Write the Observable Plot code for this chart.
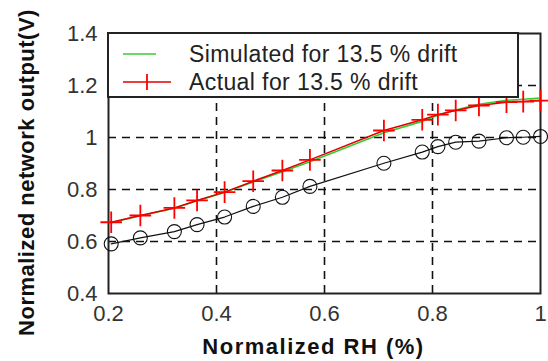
<!DOCTYPE html>
<html>
<head>
<meta charset="utf-8">
<script src="https://cdn.jsdelivr.net/npm/d3@7"></script>
<script src="https://cdn.jsdelivr.net/npm/@observablehq/plot@0.6"></script>
<style>
  body { margin: 0; background: #fff; }
  #wrap { position: relative; width: 548px; height: 361px; overflow: hidden; font-family: "Liberation Sans", Arial, sans-serif; }
  #legend { position: absolute; left: 107px; top: 32px; width: 408px; height: 62px; border: 2px solid #222; background: #fff; }
  #legend .row { position: absolute; left: 0; height: 28px; width: 100%; }
  #legend .lab { position: absolute; left: 80px; top: 0; font-size: 23px; color: #222; letter-spacing: 0.4px; line-height: 28px; white-space: nowrap; }
  #legend svg { position: absolute; left: 0; top: 0; }
</style>
</head>
<body>
<div id="wrap"></div>
<script>
// ---- data ----
const rh = [0.205, 0.259, 0.322, 0.364, 0.415, 0.468, 0.522, 0.573, 0.71, 0.781, 0.81, 0.843, 0.886, 0.937, 0.968, 1.0];
const simulated = [0.672, 0.699, 0.728, 0.757, 0.789, 0.829, 0.868, 0.907, 1.018, 1.062, 1.086, 1.106, 1.128, 1.143, 1.147, 1.152];
const actual = [0.674, 0.700, 0.729, 0.758, 0.790, 0.832, 0.873, 0.914, 1.027, 1.068, 1.088, 1.104, 1.123, 1.136, 1.138, 1.142];
const noDrift = [0.591, 0.614, 0.638, 0.665, 0.694, 0.735, 0.770, 0.812, 0.901, 0.944, 0.965, 0.982, 0.986, 0.999, 1.001, 1.004];
const seriesNames = ["Simulated for 13.5 % drift", "Actual for 13.5 % drift"];
const xTicks = [0.2, 0.4, 0.6, 0.8, 1];
const xTickLabels = ["0.2", "0.4", "0.6", "0.8", "1"];
const yTicks = [0.4, 0.6, 0.8, 1, 1.2, 1.4];
const yTickLabels = ["0.4", "0.6", "0.8", "1", "1.2", "1.4"];
const xGrid = [0.4, 0.6, 0.8];
const yGrid = [0.6, 0.8, 1, 1.2];
const xLabel = "Normalized RH (%)";
const yLabel = "Normalized network output(V)";

const simRows = rh.map((x, i) => ({x, y: simulated[i]}));
const actRows = rh.map((x, i) => ({x, y: actual[i]}));
const ndRows = rh.map((x, i) => ({x, y: noDrift[i]}));

const chart = Plot.plot({
  width: 548,
  height: 361,
  marginLeft: 108,
  marginRight: 8,
  marginTop: 33,
  marginBottom: 68,
  style: {fontFamily: "'Liberation Sans', Arial, sans-serif", background: "#fff", color: "#333"},
  x: {domain: [0.2, 1]},
  y: {domain: [0.4, 1.4]},
  marks: [
    Plot.ruleX(xGrid, {stroke: "#111", strokeWidth: 1.6, strokeDasharray: "8,6"}),
    Plot.ruleY(yGrid, {stroke: "#111", strokeWidth: 1.6, strokeDasharray: "8,6"}),
    Plot.frame({stroke: "#222", strokeWidth: 2}),
    Plot.axisX({ticks: xTicks, tickFormat: (d, i) => xTickLabels[i], tickSize: 0, tickPadding: 12, fontSize: 22, label: null}),
    Plot.axisY({ticks: yTicks, tickFormat: (d, i) => yTickLabels[i], tickSize: 0, tickPadding: 11, fontSize: 22, label: null}),
    Plot.line(ndRows, {x: "x", y: "y", stroke: "#111", strokeWidth: 1.2}),
    Plot.dot(ndRows, {x: "x", y: "y", r: 7, stroke: "#111", strokeWidth: 1.1, fill: "none"}),
    Plot.line(simRows, {x: "x", y: "y", stroke: "#33cc33", strokeWidth: 1.6}),
    Plot.line(actRows, {x: "x", y: "y", stroke: "#e00000", strokeWidth: 1.5}),
    Plot.dot(actRows, {x: "x", y: "y", symbol: "plus", r: 7, stroke: "#ff0000", strokeWidth: 1.8}),
    Plot.text([xLabel], {frameAnchor: "bottom", textAnchor: "middle", dx: -11, dy: 60, fontSize: 22, fontWeight: "bold", fill: "#111"}),
    Plot.text([yLabel], {frameAnchor: "left", textAnchor: "middle", rotate: -90, dx: -82, dy: 9, fontSize: 22, fontWeight: "bold", fill: "#111"})
  ]
});
const labels = chart.querySelectorAll('g[aria-label="text"] text');
labels.forEach(t => {
  t.style.letterSpacing = t.textContent === xLabel ? "1.5px" : "0.5px";
});

const wrap = document.getElementById("wrap");
wrap.appendChild(chart);

// legend
const legend = document.createElement("div");
legend.id = "legend";
const colors = ["#33cc33", "#e00000"];
seriesNames.forEach((name, i) => {
  const row = document.createElement("div");
  row.className = "row";
  row.style.top = (6 + i * 28) + "px";
  const s = d3.create("svg").attr("width", 75).attr("height", 28);
  s.append("line").attr("x1", 14).attr("x2", i === 0 ? 47 : 62).attr("y1", 14).attr("y2", 14)
    .attr("stroke", colors[i]).attr("stroke-width", 1.6);
  if (i === 1) {
    s.append("line").attr("x1", 38).attr("x2", 38).attr("y1", 6).attr("y2", 22).attr("stroke", "#ff0000").attr("stroke-width", 1.8);
  }
  row.appendChild(s.node());
  const lab = document.createElement("div");
  lab.className = "lab";
  lab.textContent = name;
  row.appendChild(lab);
  legend.appendChild(row);
});
wrap.appendChild(legend);
</script>
</body>
</html>
